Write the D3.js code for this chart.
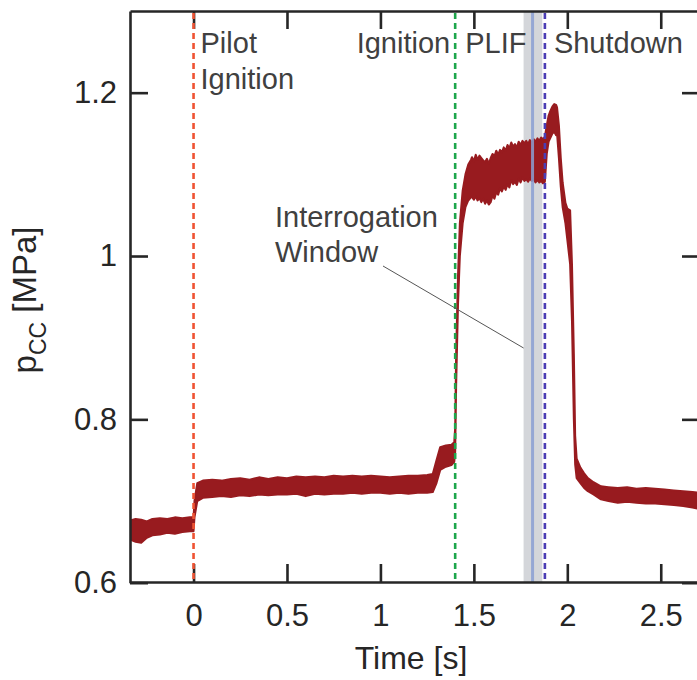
<!DOCTYPE html>
<html>
<head>
<meta charset="utf-8">
<script src="https://cdn.jsdelivr.net/npm/d3@7"></script>
<style>
  body { margin: 0; background: #fff; }
  svg { font-family: 'Liberation Sans', Arial, sans-serif; }
  .axis path, .axis line { stroke: #262626; stroke-width: 2.6; }
  .axis text { fill: #262626; font-size: 31px; }
  .note { fill: #404040; font-size: 29px; }
</style>
</head>
<body>
<svg id="chart" width="697" height="680"></svg>
<script>
// time [s], upper and lower edge of the noisy chamber pressure trace [MPa]
const times = [
  -0.34, -0.31, -0.28, -0.25, -0.22, -0.18, -0.14, -0.10, -0.06, -0.02, 0.0,
  0.005, 0.02, 0.05, 0.10, 0.15, 0.20, 0.25, 0.30, 0.35, 0.40, 0.45, 0.50,
  0.55, 0.60, 0.65, 0.70, 0.75, 0.80, 0.85, 0.90, 0.95, 1.00, 1.05, 1.10,
  1.15, 1.20, 1.25, 1.28, 1.30, 1.32, 1.35, 1.38, 1.395,
  1.400, 1.405, 1.415, 1.425, 1.440, 1.455, 1.470, 1.485,
  1.49, 1.50, 1.51, 1.52, 1.53, 1.54, 1.55, 1.56, 1.57, 1.58, 1.59, 1.60,
  1.61, 1.62, 1.63, 1.64, 1.65, 1.66, 1.67, 1.68, 1.69, 1.70, 1.71, 1.72,
  1.73, 1.74, 1.75, 1.76, 1.77, 1.78, 1.79, 1.80, 1.81, 1.82, 1.83, 1.84,
  1.85, 1.86, 1.87, 1.88, 1.89, 1.90, 1.91, 1.92, 1.93, 1.94,
  1.945, 1.955, 1.965, 1.975, 1.99, 2.00, 2.015, 2.025, 2.035, 2.042,
  2.05, 2.07, 2.09, 2.11, 2.14, 2.18, 2.22, 2.27, 2.32, 2.37, 2.42, 2.47,
  2.52, 2.57, 2.62, 2.67, 2.71
];
const pressureHigh = [
  0.676, 0.678, 0.677, 0.675, 0.678, 0.679, 0.678, 0.680, 0.679, 0.680, 0.680,
  0.700, 0.722, 0.725, 0.726, 0.725, 0.727, 0.728, 0.726, 0.729, 0.727, 0.729, 0.728,
  0.730, 0.729, 0.730, 0.729, 0.731, 0.730, 0.731, 0.730, 0.731, 0.730, 0.729, 0.730,
  0.731, 0.731, 0.732, 0.733, 0.750, 0.766, 0.768, 0.769, 0.772,
  0.790, 0.880, 0.975, 1.040, 1.080, 1.100, 1.112, 1.118,
  1.121, 1.116, 1.124, 1.118, 1.123, 1.120, 1.117, 1.115, 1.119, 1.113, 1.120, 1.125,
  1.122, 1.129, 1.124, 1.130, 1.127, 1.133, 1.129, 1.136, 1.132, 1.139, 1.134, 1.137,
  1.133, 1.140, 1.136, 1.141, 1.138, 1.141, 1.137, 1.142, 1.139, 1.143, 1.140, 1.144,
  1.141, 1.145, 1.143, 1.146, 1.160, 1.172, 1.178, 1.183, 1.186, 1.185,
  1.182, 1.160, 1.120, 1.090, 1.065, 1.058, 1.056, 0.990, 0.880, 0.780,
  0.752, 0.741, 0.734, 0.728, 0.723, 0.718, 0.717, 0.716, 0.717, 0.715, 0.716, 0.715,
  0.714, 0.713, 0.712, 0.711, 0.710
];
const pressureLow = [
  0.653, 0.650, 0.649, 0.655, 0.658, 0.659, 0.661, 0.660, 0.662, 0.663, 0.663,
  0.680, 0.700, 0.704, 0.705, 0.706, 0.705, 0.707, 0.706, 0.708, 0.707, 0.708, 0.708,
  0.709, 0.706, 0.709, 0.708, 0.709, 0.709, 0.710, 0.709, 0.710, 0.710, 0.709, 0.710,
  0.709, 0.710, 0.710, 0.711, 0.722, 0.738, 0.742, 0.744, 0.748,
  0.760, 0.840, 0.940, 1.000, 1.040, 1.060, 1.068, 1.072,
  1.072, 1.069, 1.073, 1.068, 1.071, 1.066, 1.070, 1.064, 1.068, 1.063, 1.066, 1.074,
  1.070, 1.078, 1.075, 1.083, 1.079, 1.085, 1.081, 1.088, 1.084, 1.093, 1.088, 1.091,
  1.087, 1.095, 1.090, 1.096, 1.092, 1.094, 1.091, 1.095, 1.092, 1.094, 1.090, 1.093,
  1.090, 1.092, 1.089, 1.091, 1.125, 1.140, 1.145, 1.150, 1.152, 1.148,
  1.150, 1.120, 1.085, 1.060, 1.040, 1.020, 0.990, 0.920, 0.800, 0.745,
  0.728, 0.722, 0.716, 0.712, 0.708, 0.702, 0.700, 0.698, 0.699, 0.698, 0.697, 0.697,
  0.696, 0.695, 0.694, 0.692, 0.690
];

const xTickValues = [0, 0.5, 1, 1.5, 2, 2.5];
const yTickValues = [0.6, 0.8, 1, 1.2];

const eventTimes = [0, 1.4, 1.88];
const eventColors = ['#ef5434', '#1ea64c', '#4b3db4'];
const windowRange = [1.766, 1.866];
const windowCenter = 1.814;

const svg = d3.select('#chart');
const MARGIN = { top: 11, left: 130, bottom: 98 };
const plotRight = 700;
const plotBottom = 680 - MARGIN.bottom;

const x = d3.scaleLinear().domain([-0.34, 2.71]).range([MARGIN.left, plotRight]);
const y = d3.scaleLinear().domain([0.6, 1.3]).range([plotBottom + 0.7, MARGIN.top]);

const trace = times.map((t, i) => ({ t, hi: pressureHigh[i], lo: pressureLow[i] }));

svg.append('defs').append('clipPath').attr('id', 'plot-clip')
  .append('rect')
  .attr('x', MARGIN.left).attr('y', MARGIN.top)
  .attr('width', plotRight - MARGIN.left).attr('height', plotBottom - MARGIN.top);

const plot = svg.append('g').attr('clip-path', 'url(#plot-clip)');

// interrogation window band
plot.append('rect')
  .attr('x', x(windowRange[0]))
  .attr('y', MARGIN.top)
  .attr('width', x(windowRange[1]) - x(windowRange[0]))
  .attr('height', plotBottom - MARGIN.top)
  .attr('fill', '#d4d6da');

const band = d3.area()
  .x(d => x(d.t))
  .y0(d => y(d.lo))
  .y1(d => y(d.hi));

plot.append('path')
  .datum(trace)
  .attr('d', band)
  .attr('fill', '#981b1f')
  .attr('stroke', '#981b1f')
  .attr('stroke-width', 2)
  .attr('stroke-linejoin', 'round');

plot.append('line')
  .attr('x1', x(windowCenter)).attr('x2', x(windowCenter))
  .attr('y1', MARGIN.top).attr('y2', plotBottom)
  .attr('stroke', '#8a9fd2')
  .attr('stroke-opacity', 0.85)
  .attr('stroke-width', 3);

// axes, ticks pointing inward
svg.append('g').attr('class', 'axis')
  .attr('transform', `translate(0,${plotBottom})`)
  .call(d3.axisBottom(x).tickValues(xTickValues).tickFormat(d3.format('')).tickSize(-18).tickSizeOuter(0).tickPadding(22));

svg.append('g').attr('class', 'axis')
  .attr('transform', `translate(0,${MARGIN.top})`)
  .call(d3.axisTop(x).tickValues(xTickValues).tickFormat('').tickSize(-18).tickSizeOuter(0));

svg.append('g').attr('class', 'axis')
  .attr('transform', `translate(${MARGIN.left},0)`)
  .call(d3.axisLeft(y).tickValues(yTickValues).tickFormat(d3.format('')).tickSize(-18).tickSizeOuter(0).tickPadding(13));

svg.append('g').attr('class', 'axis')
  .attr('transform', `translate(${plotRight},0)`)
  .call(d3.axisRight(y).tickValues(yTickValues).tickFormat('').tickSize(-18).tickSizeOuter(0));

svg.selectAll('.axis text').attr('fill', '#262626');

// event markers drawn over the trace
svg.selectAll('.event')
  .data(eventTimes)
  .join('line')
  .attr('class', 'event')
  .attr('x1', d => x(d)).attr('x2', d => x(d))
  .attr('y1', MARGIN.top + 2).attr('y2', plotBottom)
  .attr('stroke', (d, i) => eventColors[i])
  .attr('stroke-width', 2.6)
  .attr('stroke-dasharray', '6,4');

// annotations
const note = (tx, ty, label, anchor = 'start') => svg.append('text')
  .attr('class', 'note')
  .attr('x', tx).attr('y', ty)
  .attr('text-anchor', anchor)
  .text(label);

note(x(0) + 7, 53, 'Pilot');
note(x(0) + 7, 89, 'Ignition');
note(x(1.4) - 5, 53, 'Ignition', 'end');
note(x(1.4) + 10, 53, 'PLIF');
note(x(1.88) + 9, 53, 'Shutdown');
note(275, 227, 'Interrogation');
note(275, 262, 'Window');

svg.append('line')
  .attr('x1', 383).attr('y1', 266)
  .attr('x2', x(windowRange[0])).attr('y2', 348)
  .attr('stroke', '#555')
  .attr('stroke-width', 1);

// axis titles
svg.append('text')
  .attr('x', 411).attr('y', 669)
  .attr('text-anchor', 'middle')
  .attr('fill', '#262626')
  .style('font-size', '32px')
  .text('Time [s]');

const yTitle = svg.append('text')
  .attr('transform', 'translate(36,300) rotate(-90)')
  .attr('text-anchor', 'middle')
  .attr('fill', '#262626')
  .style('font-size', '33px');
yTitle.append('tspan').text('p');
yTitle.append('tspan').attr('dy', 10).style('font-size', '23px').text('CC');
yTitle.append('tspan').attr('dy', -10).text(' [MPa]');
</script>
</body>
</html>
